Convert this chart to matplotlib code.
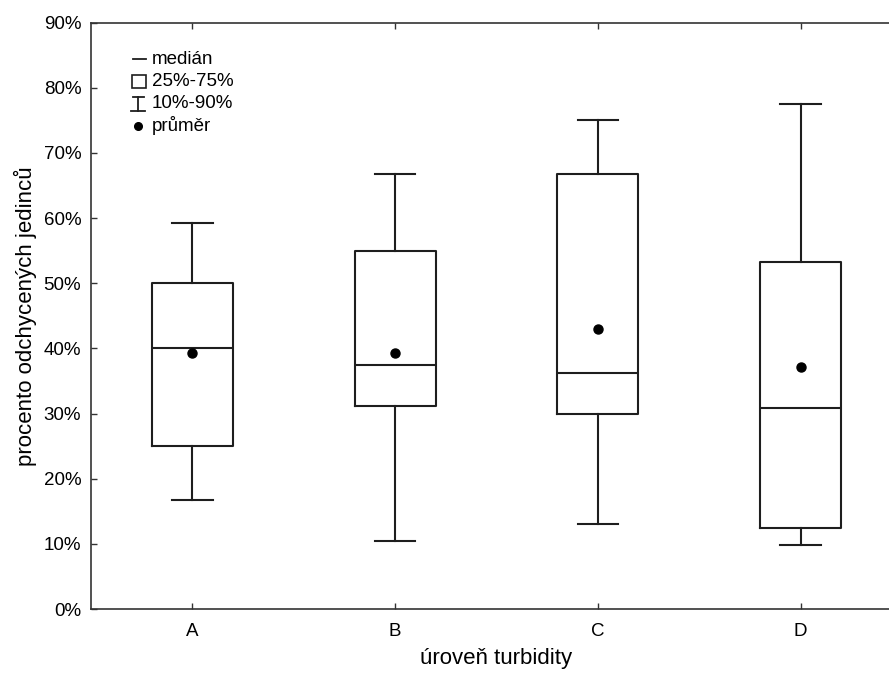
import numpy as np
import matplotlib
matplotlib.use("Agg")
import matplotlib.pyplot as plt
from matplotlib.ticker import FuncFormatter

plt.rcParams["font.family"] = ["Liberation Sans", "DejaVu Sans"]

# data (percent)
kategorie = ["A", "B", "C", "D"]
p10 = [16.8, 10.5, 13.0, 9.9]
q25 = [25.0, 31.2, 30.0, 12.4]
median = [40.0, 37.5, 36.2, 30.8]
q75 = [50.0, 55.0, 66.7, 53.3]
p90 = [59.2, 66.7, 75.0, 77.5]
prumer = [39.3, 39.3, 43.0, 37.2]

INK = "#1e1e1e"

stats = []
for i, k in enumerate(kategorie):
    stats.append(dict(label=k, whislo=p10[i], q1=q25[i], med=median[i],
                      q3=q75[i], whishi=p90[i], mean=prumer[i]))

fig = plt.figure(figsize=(8.89, 6.75), dpi=100)
# axes run past the right edge of the figure, as in the cropped original
ax = fig.add_axes([91 / 889, 66 / 675, 811 / 889, 586.3 / 675])

lw = 1.5
ax.bxp(stats, positions=range(len(kategorie)), widths=0.40, showmeans=True,
       showfliers=False, capwidths=0.2,
       boxprops=dict(color=INK, linewidth=lw),
       medianprops=dict(color=INK, linewidth=lw),
       whiskerprops=dict(color=INK, linewidth=lw),
       capprops=dict(color=INK, linewidth=lw),
       meanprops=dict(marker="o", markerfacecolor="black",
                      markeredgecolor="black", markersize=6.5))

ax.set_xlim(-0.5, 3.5)
ax.set_ylim(0, 90)
ax.set_yticks(np.arange(0, 91, 10))
ax.yaxis.set_major_formatter(FuncFormatter(lambda v, _: f"{v:.0f}%"))
ax.set_xticks(range(len(kategorie)))
ax.set_xticklabels(kategorie)

for s in ax.spines.values():
    s.set_color("#333333")
    s.set_linewidth(1.2)
ax.tick_params(direction="in", length=4, width=1, color="#333333",
               labelsize=13.5, top=True, right=False)
ax.tick_params(axis="y", pad=7)
ax.tick_params(axis="x", pad=10)

ax.set_xlabel("úroveň turbidity", fontsize=16)
ax.xaxis.set_label_coords(0.5, -0.067)
ax.set_ylabel("procento odchycených jedinců", fontsize=16)
ax.yaxis.set_label_coords(-0.067, 0.5)

# hand-drawn legend in the top left corner
tr = ax.transAxes
def px(x, y):
    return ((x - 91) / 811, (609 - y) / 586.3)

fs = 13.5
rows = [("medián", 59), ("25%-75%", 81), ("10%-90%", 103), ("průměr", 125)]
for txt, y in rows:
    x0, y0 = px(152, y)
    ax.text(x0, y0, txt, transform=tr, fontsize=fs, va="center", ha="left")

# median symbol
a, b = px(133, 59), px(146, 59)
ax.plot([a[0], b[0]], [a[1], b[1]], color=INK, lw=1.3, transform=tr)
# box symbol
a, b = px(132, 75), px(146, 88)
ax.add_patch(plt.Rectangle(a, b[0] - a[0], b[1] - a[1], fill=False,
                           edgecolor=INK, lw=1.2, transform=tr))
# whisker symbol
for (x1, y1), (x2, y2) in [((133, 97), (144, 97)), ((131, 111), (145, 111)),
                           ((138, 97), (138, 111))]:
    a, b = px(x1, y1), px(x2, y2)
    ax.plot([a[0], b[0]], [a[1], b[1]], color=INK, lw=1.3, transform=tr)
# mean symbol
a = px(138, 126)
ax.plot([a[0]], [a[1]], "o", color="black", markersize=5.5, transform=tr)

fig.savefig("out.png", dpi=100)
